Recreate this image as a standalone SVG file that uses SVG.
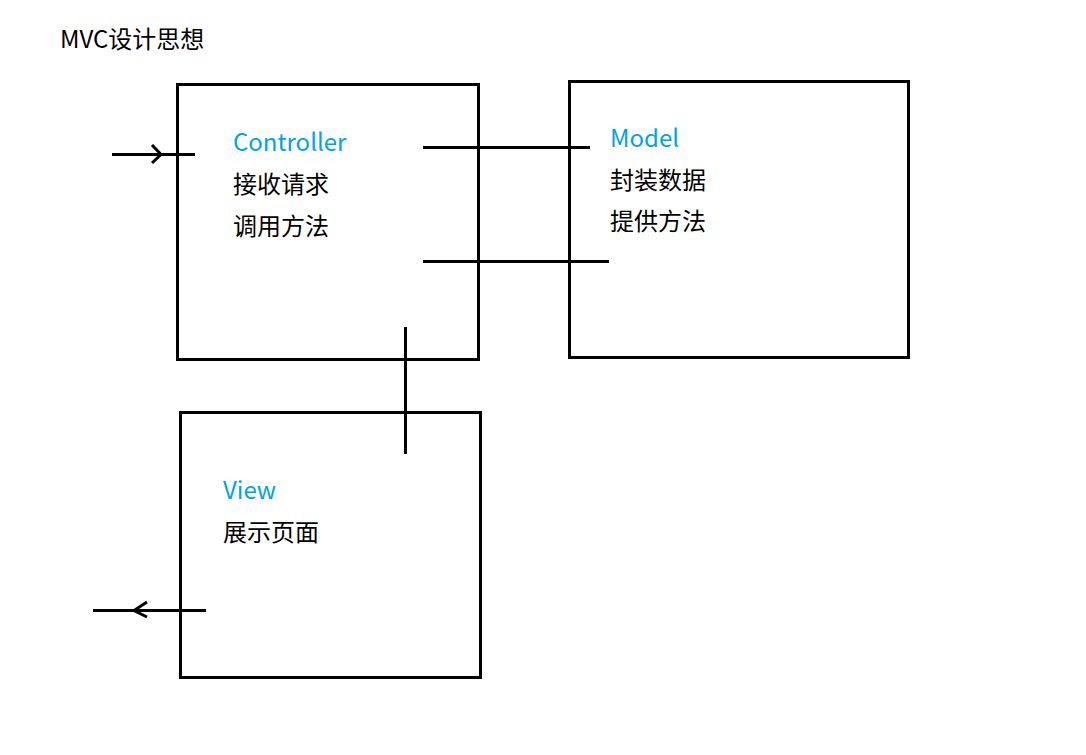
<svg xmlns="http://www.w3.org/2000/svg" width="1086" height="755" viewBox="0 0 1086 755">
<style>
.box{fill:none;stroke:#000;stroke-width:3}
.ln{fill:none;stroke:#000;stroke-width:3}
.t{font-family:"Microsoft YaHei","Noto Sans CJK SC","Noto Sans",sans-serif;font-size:24px;fill:#000}
.b{fill:#00a2e8}
</style>
<rect width="1086" height="755" fill="#fff"/>
<text class="t" x="60" y="48">MVC设计思想</text>
<g id="controller">
<rect class="box" x="177.5" y="84.5" width="301" height="275"/>
<text class="t b" x="233" y="151">Controller</text>
<text class="t" x="233" y="193">接收请求</text>
<text class="t" x="233" y="235">调用方法</text>
</g>
<g id="model">
<rect class="box" x="569.5" y="81.5" width="339" height="276"/>
<text class="t b" x="610" y="147">Model</text>
<text class="t" x="610" y="189">封装数据</text>
<text class="t" x="610" y="230">提供方法</text>
</g>
<g id="view">
<rect class="box" x="180.5" y="412.5" width="300" height="265"/>
<text class="t b" x="223" y="499">View</text>
<text class="t" x="223" y="541">展示页面</text>
</g>
<g id="connectors">
<line class="ln" x1="112" y1="154.5" x2="195" y2="154.5"/>
<polyline class="ln" points="152,145 161,154.5 152,163"/>
<line class="ln" x1="423" y1="147.5" x2="590" y2="147.5"/>
<line class="ln" x1="423" y1="261.5" x2="609" y2="261.5"/>
<line class="ln" x1="405.5" y1="327" x2="405.5" y2="454"/>
<line class="ln" x1="93" y1="610.5" x2="206" y2="610.5"/>
<polyline class="ln" points="147,602 134,610.5 147,617"/>
</g>
</svg>
